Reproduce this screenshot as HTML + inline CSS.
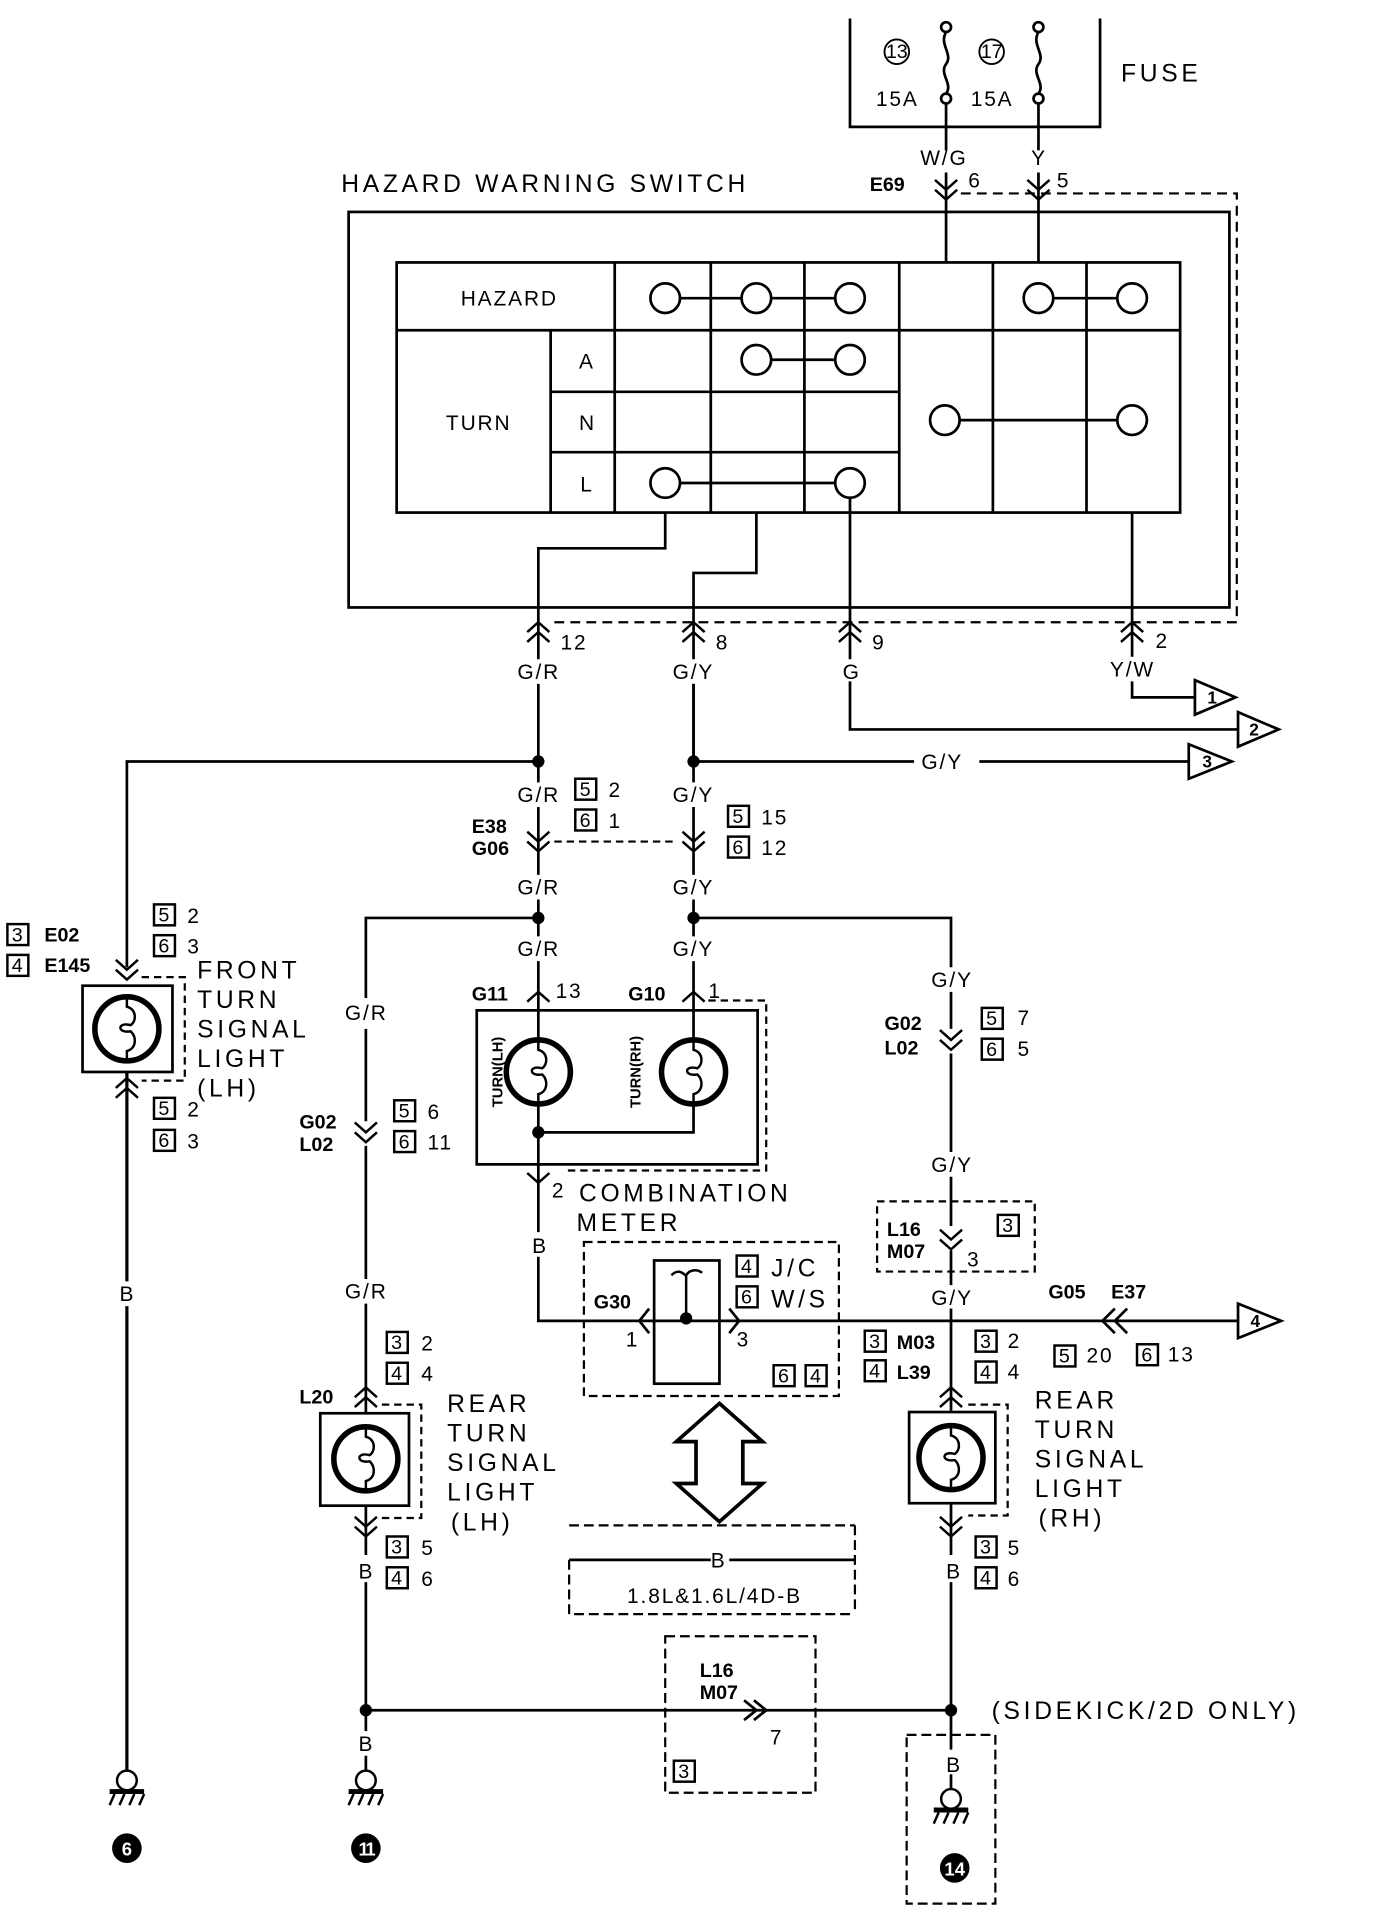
<!DOCTYPE html>
<html><head><meta charset="utf-8"><style>
html,body{margin:0;padding:0;background:#fff}
svg{display:block}
text{font-family:"Liberation Sans",sans-serif;fill:#000}
.t{font-size:17px;letter-spacing:1.5px}
.b{font-size:16px;font-weight:bold}
.l{font-size:20px;letter-spacing:3px}
.n{font-size:16px}
</style></head><body>
<svg width="1376" height="1932" viewBox="0 0 1117 1568" preserveAspectRatio="none" xmlns="http://www.w3.org/2000/svg">
<defs>
<path id="cd" d="M-9,-9 L0,-1 L9,-9 M-9,-1 L0,7 L9,-1" fill="none" stroke="#000" stroke-width="2"/>
<path id="cu" d="M-9,9 L0,1 L9,9 M-9,1 L0,-7 L9,1" fill="none" stroke="#000" stroke-width="2"/>
<path id="su" d="M-9,8 L0,0 L9,8" fill="none" stroke="#000" stroke-width="2"/>
<path id="sd" d="M-9,-8 L0,0 L9,-8" fill="none" stroke="#000" stroke-width="2"/>
<g id="bulb"><circle cx="0" cy="0" r="26" fill="none" stroke="#000" stroke-width="4.5"/>
<path d="M0,-26 L0,-18 C8,-16 8,-6 3,-3 C-8,-6 -8,4 3,2 C8,6 8,16 0,18 L0,26" fill="none" stroke="#000" stroke-width="2"/></g>
<g id="gnd"><circle cx="0" cy="0" r="8" fill="#fff" stroke="#000" stroke-width="2"/>
<path d="M-14,9 H14" stroke="#000" stroke-width="4"/><path d="M-10,11 L-14,20 M-2,11 L-6,20 M6,11 L2,20 M14,11 L10,20" stroke="#000" stroke-width="2"/></g>
</defs>
<g stroke="#000" stroke-width="2.2" fill="none">
<path d="M690,15 V103 H893 V15"/>
<circle cx="768" cy="22" r="4"/><circle cx="768" cy="80" r="4"/>
<circle cx="843" cy="22" r="4"/><circle cx="843" cy="80" r="4"/>
<path d="M768,26 C762,36 774,44 768,52 C762,60 774,68 768,76"/>
<path d="M843,26 C837,36 849,44 843,52 C837,60 849,68 843,76"/>
<circle cx="728" cy="42" r="10" stroke-width="1.5"/><circle cx="805" cy="42" r="10" stroke-width="1.5"/>
<path d="M768,84 V122 M768,140 V213 M843,84 V122 M843,140 V213"/>
<rect x="283" y="172" width="715" height="321"/>
<path d="M780,157 H1004 V505 H450" stroke-dasharray="8,5" stroke-width="1.8"/>
<rect x="322" y="213" width="636" height="203"/>
<path d="M322,268 H958 M447,268 V416 M499,213 V416 M577,213 V416 M653,213 V416 M730,213 V416 M806,213 V416 M882,213 V416 M447,318 H730 M447,367 H730"/>
<path d="M552,242 H602 M626,242 H678 M855,242 H907 M626,292 H678 M779,341 H907 M552,392 H678"/>
<g fill="#fff"><circle cx="540" cy="242" r="12"/><circle cx="614" cy="242" r="12"/><circle cx="690" cy="242" r="12"/><circle cx="843" cy="242" r="12"/><circle cx="919" cy="242" r="12"/><circle cx="614" cy="292" r="12"/><circle cx="690" cy="292" r="12"/><circle cx="767" cy="341" r="12"/><circle cx="919" cy="341" r="12"/><circle cx="540" cy="392" r="12"/><circle cx="690" cy="392" r="12"/></g>
<path d="M540,416 V445 H437 V535 M614,416 V465 H563 V535 M690,404 V535 M919,416 V533"/>
<path d="M919,553 V566 H970 M690,553 V592 H1005 M563,555 V618 H742 M795,618 H965"/>
<path d="M970,552 L1003,566 L970,580 Z M1005,578 L1038,592 L1005,606 Z M965,604 L1000,618 L965,632 Z"/>
<path d="M437,555 V635 M563,555 V635 M437,618 H103 V785"/>
<path d="M437,655 V710 M563,655 V710"/>
<path d="M450,683 H550" stroke-dasharray="6,4" stroke-width="1.8"/>
<path d="M437,730 V760 M563,730 V760 M437,745 H297 V810 M563,745 H772 V785"/>
<path d="M437,780 V820 M563,780 V820"/>
<rect x="387" y="820" width="228" height="125"/>
<path d="M575,812 H622 V950 H460" stroke-dasharray="6,4" stroke-width="1.8"/>
<path d="M437,820 V844 M437,896 V1000 M563,820 V844 M563,896 V919 H437"/>
<path d="M437,1020 V1072 H531 M584,1072 H1005"/>
<path d="M1005,1058 L1040,1072 L1005,1086 Z"/>
<rect x="474" y="1008" width="207" height="125" stroke-dasharray="7,4" stroke-width="1.8"/>
<rect x="531" y="1023" width="53" height="100"/>
<path d="M531,1072 H584"/>
<path d="M545,1035 C552,1028 556,1036 557,1035 C560,1030 566,1030 570,1033 M557,1035 V1070" stroke-width="2"/>
<path d="M527,1062 L519,1072 L527,1082 M592,1062 L600,1072 L592,1082"/>
<path d="M584,1139 L619,1170 H603 V1204 H619 L584,1235 L549,1204 H565 V1170 H549 Z" stroke-width="3"/>
<path d="M694,1238 V1310 M462,1238 H694 M462,1266 V1310 H694" stroke-dasharray="8,4" stroke-width="1.8"/>
<path d="M462,1266 H577 M592,1266 H694" stroke-width="2.2"/>
<path d="M772,805 V835 M772,855 V935 M772,955 V995 M772,1015 V1043 M772,1062 V1145 M772,1220 V1262 M772,1284 V1420 M297,1388 H772"/>
<path d="M712,975 H840 V1032 H712 Z" stroke-dasharray="6,4" stroke-width="1.8"/>
<rect x="738" y="1146" width="70" height="74"/>
<path d="M786,1140 H818 V1230 H786" stroke-dasharray="6,4" stroke-width="1.8"/>
<path d="M905,1062 L895,1072 L905,1082 M915,1062 L905,1072 L915,1082"/>
<path d="M297,835 V910 M297,930 V1038 M297,1058 V1147 M297,1222 V1262 M297,1284 V1405 M297,1425 V1437"/>
<rect x="260" y="1147" width="72" height="75"/>
<path d="M310,1140 H342 V1232 H310" stroke-dasharray="6,4" stroke-width="1.8"/>
<path d="M540,1328 H662 V1455 H540 Z" stroke-dasharray="8,4" stroke-width="1.8"/>
<path d="M604,1380 L614,1388 L604,1396 M612,1380 L622,1388 L612,1396"/>
<path d="M736,1408 H808 V1545 H736 Z" stroke-dasharray="8,4" stroke-width="1.8"/>
<path d="M772,1440 V1452"/>
<rect x="67" y="800" width="73" height="70"/>
<path d="M115,793 H150 V877 H115" stroke-dasharray="6,4" stroke-width="1.8"/>
<path d="M103,870 V1040 M103,1060 V1442" stroke-width="2.6"/>
</g>
<use href="#cd" x="768" y="155"/><use href="#cd" x="843" y="155"/>
<use href="#cu" x="437" y="512"/><use href="#cu" x="563" y="512"/><use href="#cu" x="690" y="512"/><use href="#cu" x="919" y="512"/>
<use href="#cd" x="437" y="684"/><use href="#cd" x="563" y="684"/>
<use href="#su" x="437" y="805"/><use href="#su" x="563" y="805"/>
<use href="#sd" x="437" y="960"/>
<use href="#cd" x="103" y="788"/><use href="#cu" x="103" y="882"/>
<use href="#cd" x="297" y="920"/><use href="#cu" x="297" y="1133"/><use href="#cd" x="297" y="1240"/>
<use href="#cd" x="772" y="845"/><use href="#cd" x="772" y="1007"/><use href="#cu" x="772" y="1133"/><use href="#cd" x="772" y="1240"/>
<use href="#bulb" x="103" y="835"/><use href="#bulb" x="297" y="1184"/><use href="#bulb" x="772" y="1183"/>
<use href="#bulb" x="437" y="870"/><use href="#bulb" x="563" y="870"/>
<g fill="#000"><circle cx="437" cy="618" r="5"/><circle cx="563" cy="618" r="5"/><circle cx="437" cy="745" r="5"/><circle cx="563" cy="745" r="5"/><circle cx="437" cy="919" r="5"/><circle cx="557" cy="1070" r="5"/><circle cx="297" cy="1388" r="5"/><circle cx="772" cy="1388" r="5"/></g>
<use href="#gnd" x="103" y="1445"/><use href="#gnd" x="297" y="1445"/><use href="#gnd" x="772" y="1460"/>
<g fill="#000"><circle cx="103" cy="1500" r="12"/><circle cx="297" cy="1500" r="12"/><circle cx="775" cy="1516" r="12"/></g>
<g font-weight="bold" font-size="15" text-anchor="middle"><text x="103" y="1506" style="fill:#fff">6</text><text x="297" y="1506" style="fill:#fff" letter-spacing="-2">11</text><text x="775" y="1522" style="fill:#fff">14</text></g>
<text class="n" x="728" y="47" text-anchor="middle" font-size="12">13</text>
<text class="n" x="805" y="47" text-anchor="middle" font-size="12">17</text>
<text class="t" x="711" y="86">15A</text><text class="t" x="788" y="86">15A</text>
<text class="l" x="910" y="66">FUSE</text>
<text class="l" x="277" y="156">HAZARD WARNING SWITCH</text>
<text class="t" x="747" y="134">W/G</text><text class="t" x="837" y="134">Y</text>
<text class="b" x="706" y="155">E69</text><text class="t" x="786" y="152">6</text><text class="t" x="858" y="152">5</text>
<text class="t" x="374" y="248">HAZARD</text><text class="t" x="362" y="349">TURN</text>
<text class="t" x="470" y="299">A</text><text class="t" x="470" y="349">N</text><text class="t" x="471" y="399">L</text>
<text class="t" x="455" y="527">12</text><text class="t" x="581" y="527">8</text><text class="t" x="708" y="527">9</text><text class="t" x="938" y="526">2</text>
<text class="t" x="420" y="551">G/R</text><text class="t" x="546" y="551">G/Y</text><text class="t" x="684" y="551">G</text><text class="t" x="901" y="549">Y/W</text>
<text class="t" x="748" y="624">G/Y</text>
<g font-size="14" font-weight="bold" text-anchor="middle"><text x="984" y="571">1</text><text x="1018" y="597">2</text><text x="980" y="623">3</text><text x="1019" y="1077">4</text></g>
<text class="t" x="420" y="651">G/R</text><text class="t" x="546" y="651">G/Y</text>
<text class="t" x="420" y="726">G/R</text><text class="t" x="546" y="726">G/Y</text>
<text class="t" x="420" y="776">G/R</text><text class="t" x="546" y="776">G/Y</text>
<text class="b" x="383" y="676">E38</text><text class="b" x="383" y="694">G06</text>
<text class="b" x="383" y="812">G11</text><text class="t" x="451" y="810">13</text>
<text class="b" x="510" y="812">G10</text><text class="t" x="575" y="810">1</text>
<text class="t" x="448" y="972">2</text>
<text class="l" x="470" y="975">COMBINATION</text><text class="l" x="468" y="999">METER</text>
<text class="t" x="432" y="1017">B</text>
<text font-size="12" font-weight="bold" transform="translate(408,870) rotate(-90)" text-anchor="middle">TURN(LH)</text>
<text font-size="12" font-weight="bold" transform="translate(520,870) rotate(-90)" text-anchor="middle">TURN(RH)</text>
<text class="b" x="482" y="1062">G30</text><text class="t" x="508" y="1093">1</text><text class="t" x="598" y="1093">3</text>
<text class="l" x="626" y="1036">J/C</text><text class="l" x="626" y="1061">W/S</text>
<text class="t" x="577" y="1272">B</text>
<text class="t" x="580" y="1301" text-anchor="middle">1.8L&amp;1.6L/4D-B</text>
<text class="t" x="756" y="801">G/Y</text><text class="b" x="718" y="836">G02</text><text class="b" x="718" y="856">L02</text>
<text class="t" x="756" y="951">G/Y</text><text class="b" x="720" y="1003">L16</text><text class="b" x="720" y="1021">M07</text><text class="t" x="785" y="1028">3</text>
<text class="t" x="756" y="1059">G/Y</text>
<text class="b" x="851" y="1054">G05</text><text class="b" x="902" y="1054">E37</text>
<text class="b" x="728" y="1095">M03</text><text class="b" x="728" y="1119">L39</text>
<text class="l" x="840" y="1143">REAR</text><text class="l" x="840" y="1167">TURN</text><text class="l" x="840" y="1191">SIGNAL</text><text class="l" x="840" y="1215">LIGHT</text><text class="l" x="843" y="1239">(RH)</text>
<text class="t" x="768" y="1281">B</text>
<text class="l" x="805" y="1395">(SIDEKICK/2D ONLY)</text>
<text class="t" x="768" y="1438">B</text>
<text class="b" x="568" y="1361">L16</text><text class="b" x="568" y="1379">M07</text><text class="t" x="625" y="1416">7</text>
<text class="t" x="280" y="828">G/R</text><text class="b" x="243" y="916">G02</text><text class="b" x="243" y="934">L02</text>
<text class="t" x="280" y="1054">G/R</text><text class="b" x="243" y="1139">L20</text>
<text class="l" x="363" y="1146">REAR</text><text class="l" x="363" y="1170">TURN</text><text class="l" x="363" y="1194">SIGNAL</text><text class="l" x="363" y="1218">LIGHT</text><text class="l" x="366" y="1242">(LH)</text>
<text class="t" x="291" y="1281">B</text><text class="t" x="291" y="1421">B</text>
<text class="b" x="36" y="764">E02</text><text class="b" x="36" y="789">E145</text>
<text class="l" x="160" y="794">FRONT</text><text class="l" x="160" y="818">TURN</text><text class="l" x="160" y="842">SIGNAL</text><text class="l" x="160" y="866">LIGHT</text><text class="l" x="160" y="890">(LH)</text>
<text class="t" x="97" y="1056">B</text>
<g stroke="#000" stroke-width="2" fill="none">
<rect x="467" y="632" width="17" height="17"/><rect x="467" y="657" width="17" height="17"/>
<rect x="591" y="654" width="17" height="17"/><rect x="591" y="679" width="17" height="17"/>
<rect x="6" y="750" width="17" height="17"/><rect x="6" y="775" width="17" height="17"/>
<rect x="125" y="734" width="17" height="17"/><rect x="125" y="759" width="17" height="17"/>
<rect x="125" y="891" width="17" height="17"/><rect x="125" y="917" width="17" height="17"/>
<rect x="320" y="893" width="17" height="17"/><rect x="320" y="918" width="17" height="17"/>
<rect x="797" y="818" width="17" height="17"/><rect x="797" y="843" width="17" height="17"/>
<rect x="810" y="986" width="17" height="17"/>
<rect x="598" y="1019" width="17" height="17"/><rect x="598" y="1044" width="17" height="17"/>
<rect x="628" y="1108" width="17" height="17"/><rect x="654" y="1108" width="17" height="17"/>
<rect x="702" y="1080" width="17" height="17"/><rect x="702" y="1104" width="17" height="17"/>
<rect x="792" y="1080" width="17" height="17"/><rect x="792" y="1105" width="17" height="17"/>
<rect x="856" y="1092" width="17" height="17"/><rect x="923" y="1091" width="17" height="17"/>
<rect x="314" y="1081" width="17" height="17"/><rect x="314" y="1106" width="17" height="17"/>
<rect x="314" y="1247" width="17" height="17"/><rect x="314" y="1272" width="17" height="17"/>
<rect x="792" y="1247" width="17" height="17"/><rect x="792" y="1272" width="17" height="17"/>
<rect x="547" y="1429" width="17" height="17"/>
</g>
<g class="n" text-anchor="middle" font-size="14">
<text x="475" y="646">5</text><text x="475" y="671">6</text><text x="599" y="668">5</text><text x="599" y="693">6</text>
<text x="14" y="764">3</text><text x="14" y="789">4</text><text x="133" y="748">5</text><text x="133" y="773">6</text>
<text x="133" y="905">5</text><text x="133" y="931">6</text><text x="328" y="907">5</text><text x="328" y="932">6</text>
<text x="805" y="832">5</text><text x="805" y="857">6</text><text x="818" y="1000">3</text>
<text x="606" y="1033">4</text><text x="606" y="1058">6</text><text x="636" y="1122">6</text><text x="662" y="1122">4</text>
<text x="710" y="1094">3</text><text x="710" y="1118">4</text><text x="800" y="1094">3</text><text x="800" y="1119">4</text>
<text x="864" y="1106">5</text><text x="931" y="1105">6</text>
<text x="322" y="1095">3</text><text x="322" y="1120">4</text><text x="322" y="1261">3</text><text x="322" y="1286">4</text>
<text x="800" y="1261">3</text><text x="800" y="1286">4</text><text x="555" y="1443">3</text>
</g>
<g class="t">
<text x="494" y="647">2</text><text x="494" y="672">1</text><text x="618" y="669">15</text><text x="618" y="694">12</text>
<text x="152" y="749">2</text><text x="152" y="774">3</text><text x="152" y="906">2</text><text x="152" y="932">3</text>
<text x="347" y="908">6</text><text x="347" y="933">11</text>
<text x="826" y="832">7</text><text x="826" y="857">5</text>
<text x="882" y="1106">20</text><text x="948" y="1105">13</text>
<text x="818" y="1094">2</text><text x="818" y="1119">4</text>
<text x="342" y="1096">2</text><text x="342" y="1121">4</text><text x="342" y="1262">5</text><text x="342" y="1287">6</text>
<text x="818" y="1262">5</text><text x="818" y="1287">6</text>
</g>
</svg>
</body></html>
